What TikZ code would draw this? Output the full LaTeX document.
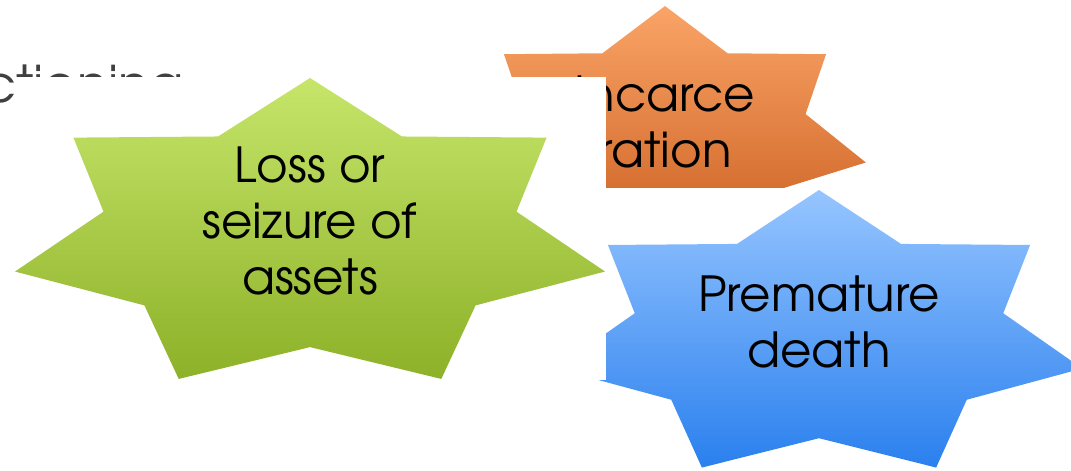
\documentclass[tikz,border=0pt]{standalone}
\usepackage{fontspec}
\setmainfont{TeX Gyre Adventor}
\definecolor{greentop}{RGB}{198,229,106}
\definecolor{greenbot}{RGB}{141,177,40}
\definecolor{orangetop}{RGB}{250,164,103}
\definecolor{orangebot}{RGB}{202,95,32}
\definecolor{bluetop}{RGB}{150,197,255}
\definecolor{bluebot}{RGB}{42,128,238}
\definecolor{titlegray}{RGB}{64,64,64}
\tikzset{>=stealth}
\newcommand{\sevenstar}[5]{\path[#1] plot[samples at={0,...,13}, variable=\k]
  ({#2+#4*(1-0.3*mod(\k,2))*cos(-90+\k*360/14)}, {#3+#5*(1-0.3*mod(\k,2))*sin(-90+\k*360/14)}) -- cycle;}

\begin{document}
\begin{tikzpicture}[x=0.02cm, y=-0.02cm,
    lbl/.style={align=center, inner sep=0pt, font=\fontsize{27.5}{32}\selectfont},
    cover/.style={fill=white},
    greenfill/.style={top color=greentop, bottom color=greenbot},
    orangefill/.style={top color=orangetop, bottom color=orangebot},
    bluefill/.style={top color=bluetop, bottom color=bluebot}]
    \useasboundingbox (0,0) rectangle (1071,470);
    \clip (0,0) rectangle (1071,470);
    \node[anchor=base east, inner sep=0pt, text=titlegray, font=\fontsize{29}{34}\selectfont] (title) at (184,102) {ctioning};
    \sevenstar{orangefill}{665}{134}{206}{128}
    \node[lbl] (jail) at (665,122) {Incarce\\ration};
    \fill[cover] (556,188) rectangle (1082,470);
    \sevenstar{bluefill}{819}{336}{270}{146}
    \node[lbl] (death) at (819,322) {Premature\\death};
    \fill[cover] (15,77) rectangle (606,380);
    \sevenstar{greenfill}{310}{236.3}{302.6}{158.3}
    \node[lbl] (assets) at (310,221) {Loss or\\seizure of\\assets};
\end{tikzpicture}
\end{document}
